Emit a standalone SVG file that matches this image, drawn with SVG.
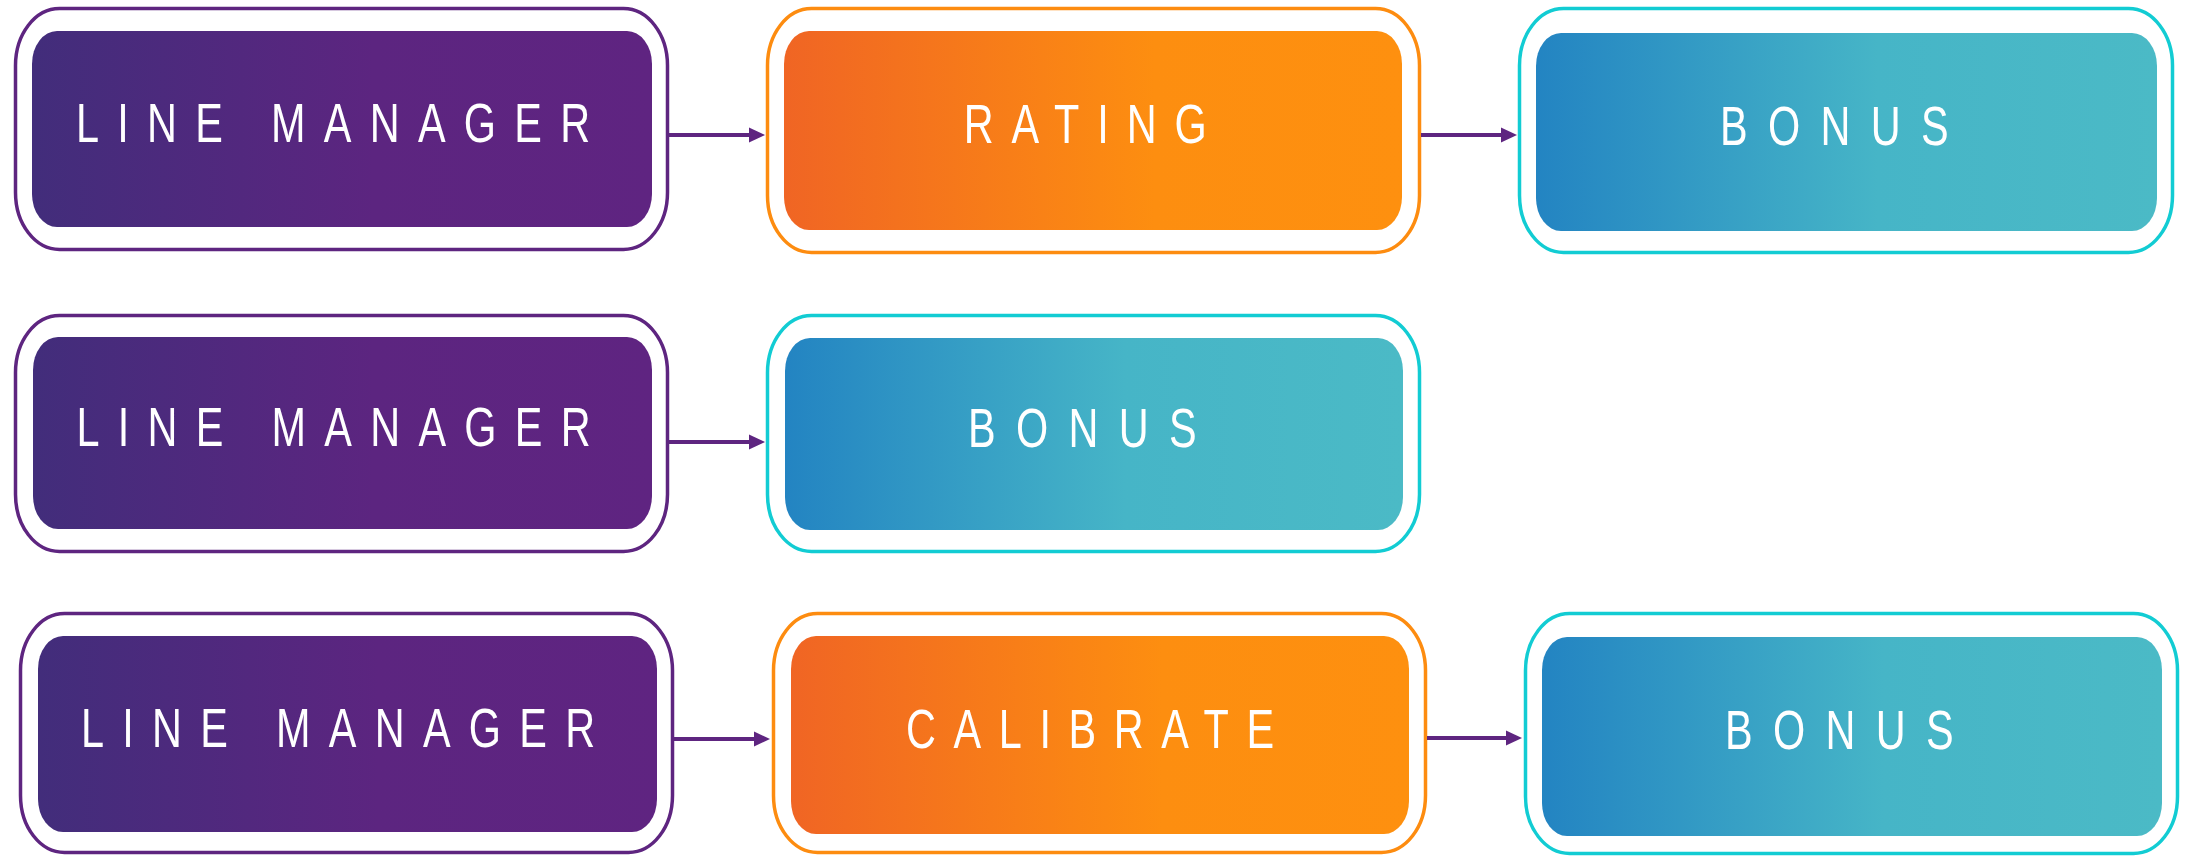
<svg xmlns="http://www.w3.org/2000/svg" width="2188" height="857" viewBox="0 0 2188 857">
  <style>
    .frame { fill: #ffffff; stroke-width: 3.5; }
    .frame-purple { stroke: #5e2580; }
    .frame-orange { stroke: #fd8c10; }
    .frame-cyan { stroke: #12ccd3; }
    .fill-purple { fill: url(#gPurple); }
    .fill-orange { fill: url(#gOrange); }
    .fill-blue { fill: url(#gBlue); }
    .label { font-family: "Liberation Sans", Arial, sans-serif; font-size: 56px; fill: #ffffff; }
    .ls-mgr { letter-spacing: 24.7px; }
    .ls-rating { letter-spacing: 24.2px; }
    .ls-bonus { letter-spacing: 27.5px; }
    .ls-cal { letter-spacing: 23.8px; }
    .link line { stroke: #5e2580; stroke-width: 4; }
    .link polygon { fill: #5e2580; }
  </style>
  <defs>
    <linearGradient id="gPurple" x1="0" y1="0" x2="1" y2="0">
      <stop offset="0" stop-color="#422d7b"/>
      <stop offset="0.55" stop-color="#5c2580"/>
      <stop offset="1" stop-color="#5f2481"/>
    </linearGradient>
    <linearGradient id="gOrange" x1="0" y1="0" x2="1" y2="0">
      <stop offset="0" stop-color="#f06524"/>
      <stop offset="0.6" stop-color="#fd8e10"/>
      <stop offset="1" stop-color="#fe900f"/>
    </linearGradient>
    <linearGradient id="gBlue" x1="0" y1="0" x2="1" y2="0">
      <stop offset="0" stop-color="#2384c2"/>
      <stop offset="0.55" stop-color="#46b5c7"/>
      <stop offset="1" stop-color="#4bbac6"/>
    </linearGradient>
  </defs>

  <!-- row 1 -->
  <g id="r1-line-manager">
    <rect class="frame frame-purple" x="15.5" y="8.5" width="652" height="241" rx="44" ry="57"/>
    <rect class="fill-purple" x="32" y="31" width="620" height="196" rx="25" ry="33"/>
    <text class="label ls-mgr" transform="translate(76,142) scale(0.74,1)">LINE MANAGER</text>
  </g>
  <g id="r1-rating">
    <rect class="frame frame-orange" x="767.5" y="8.5" width="652" height="244" rx="44" ry="57"/>
    <rect class="fill-orange" x="784" y="31" width="618" height="199" rx="25" ry="33"/>
    <text class="label ls-rating" transform="translate(963.7,143) scale(0.74,1)">RATING</text>
  </g>
  <g id="r1-bonus">
    <rect class="frame frame-cyan" x="1519.5" y="8.5" width="653" height="244" rx="44" ry="57"/>
    <rect class="fill-blue" x="1536" y="33" width="621" height="198" rx="25" ry="33"/>
    <text class="label ls-bonus" transform="translate(1720,145) scale(0.74,1)">BONUS</text>
  </g>

  <!-- row 2 -->
  <g id="r2-line-manager">
    <rect class="frame frame-purple" x="15.5" y="315.5" width="652" height="236" rx="44" ry="57"/>
    <rect class="fill-purple" x="33" y="337" width="619" height="192" rx="25" ry="33"/>
    <text class="label ls-mgr" transform="translate(76.5,446) scale(0.74,1)">LINE MANAGER</text>
  </g>
  <g id="r2-bonus">
    <rect class="frame frame-cyan" x="767.5" y="315.5" width="652" height="236" rx="44" ry="57"/>
    <rect class="fill-blue" x="785" y="338" width="618" height="192" rx="25" ry="33"/>
    <text class="label ls-bonus" transform="translate(968,447) scale(0.74,1)">BONUS</text>
  </g>

  <!-- row 3 -->
  <g id="r3-line-manager">
    <rect class="frame frame-purple" x="20.5" y="613.5" width="652" height="239" rx="44" ry="57"/>
    <rect class="fill-purple" x="38" y="636" width="619" height="196" rx="25" ry="33"/>
    <text class="label ls-mgr" transform="translate(81,747) scale(0.74,1)">LINE MANAGER</text>
  </g>
  <g id="r3-calibrate">
    <rect class="frame frame-orange" x="773.5" y="613.5" width="652" height="239" rx="44" ry="57"/>
    <rect class="fill-orange" x="791" y="636" width="618" height="198" rx="25" ry="33"/>
    <text class="label ls-cal" transform="translate(906,748) scale(0.74,1)">CALIBRATE</text>
  </g>
  <g id="r3-bonus">
    <rect class="frame frame-cyan" x="1525.5" y="613.5" width="652" height="240" rx="44" ry="57"/>
    <rect class="fill-blue" x="1542" y="637" width="620" height="199" rx="25" ry="33"/>
    <text class="label ls-bonus" transform="translate(1725,749) scale(0.74,1)">BONUS</text>
  </g>

  <!-- connectors -->
  <g id="connectors" class="link">
    <line x1="669" y1="135" x2="752" y2="135"/>
    <polygon points="749,127.5 765,135 749,142.5"/>
    <line x1="1421" y1="135" x2="1504" y2="135"/>
    <polygon points="1501,127.5 1517,135 1501,142.5"/>
    <line x1="669" y1="442" x2="752" y2="442"/>
    <polygon points="749,434.5 765,442 749,449.5"/>
    <line x1="674" y1="739" x2="757" y2="739"/>
    <polygon points="754,731.5 770,739 754,746.5"/>
    <line x1="1427" y1="738" x2="1509" y2="738"/>
    <polygon points="1506,730.5 1522,738 1506,745.5"/>
  </g>
</svg>
